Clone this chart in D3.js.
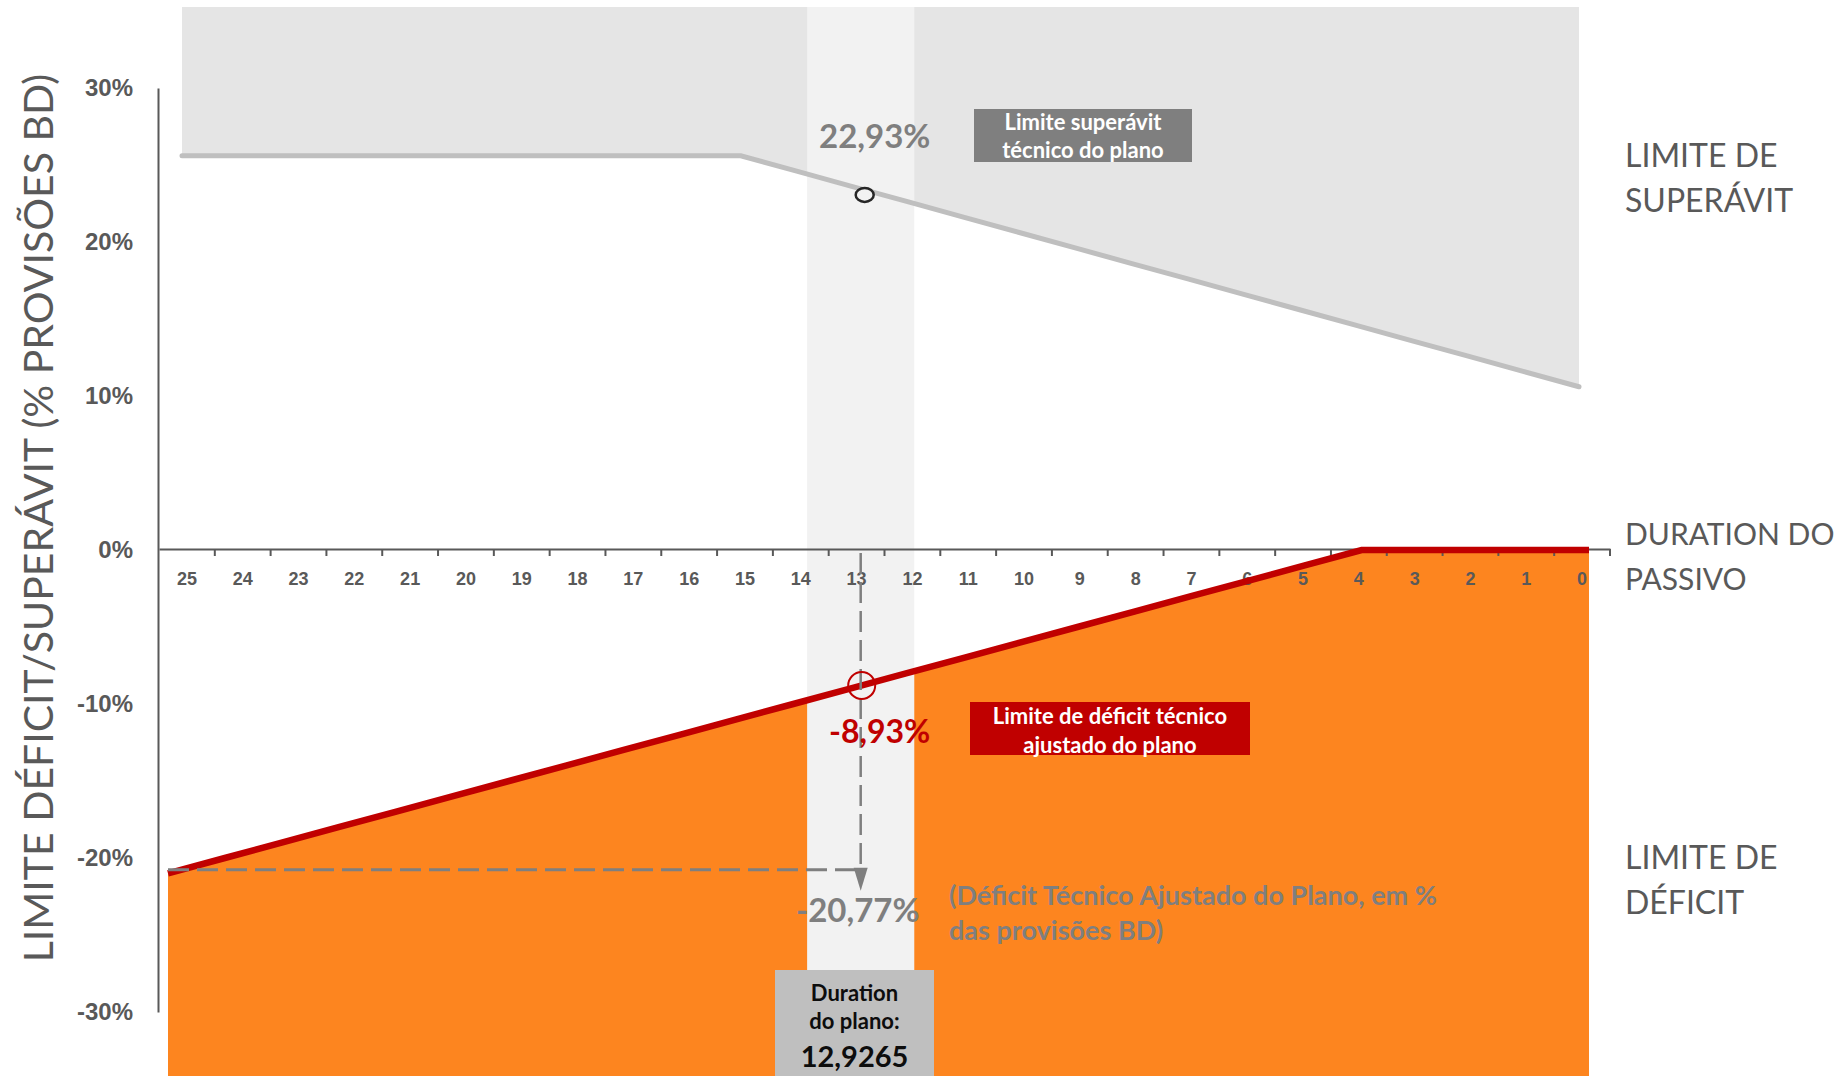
<!DOCTYPE html>
<html>
<head>
<meta charset="utf-8">
<script src="https://cdn.jsdelivr.net/npm/d3@7"></script>
<style>
  html, body { margin: 0; padding: 0; background: #fff; }
  svg { display: block; font-family: Lato, "Open Sans", sans-serif; }
</style>
</head>
<body>
<svg id="chart" width="1845" height="1076"></svg>
<script>
// duration do passivo (eixo X, decrescente)
var durations = [25, 24, 23, 22, 21, 20, 19, 18, 17, 16, 15, 14, 13, 12, 11, 10, 9, 8, 7, 6, 5, 4, 3, 2, 1, 0];
// limite de superavit (% provisoes BD)
var surplusLimit = [25.6, 25.6, 25.6, 25.6, 25.6, 25.6, 25.6, 25.6, 25.6, 25.6, 25.6,
  24.6, 23.6, 22.6, 21.6, 20.6, 19.6, 18.6, 17.6, 16.6, 15.6, 14.6, 13.6, 12.6, 11.6, 10.6];
// limite de deficit (% provisoes BD)
var deficitLimit = [-21, -20, -19, -18, -17, -16, -15, -14, -13, -12, -11,
  -10, -9, -8, -7, -6, -5, -4, -3, -2, -1, 0, 0, 0, 0, 0];
var yTicks = [-30, -20, -10, 0, 10, 20, 30];

var durationPlano = 12.9265;
var surplusAtDuration = 22.93;
var deficitAtDuration = -8.93;
var deficitAdjusted = -20.77;

var W = 1845, H = 1076;
var TOP = 7;
var GRAY_TXT = '#595959', GRAY_MID = '#7f7f7f', RED = '#c00000', ORANGE = '#fd851f';

var ptBR = d3.formatLocale({ decimal: ',', thousands: '.', grouping: [3], currency: ['R$', ''], minus: '-' });
var pct2 = function (v) { return ptBR.format('.2f')(v) + '%'; };

var svg = d3.select('#chart');

var xBand = d3.scaleBand().domain(durations.map(String)).range([159, 1610]).padding(0);
var half = xBand.bandwidth() / 2;
var xDur = d3.scaleLinear().domain([25, 0]).range([xBand('25') + half, xBand('0') + half]);
// the two shaded shapes sit a little off the category grid in the original
var xSup = d3.scaleLinear().domain([25, 0]).range([182, 1579]);
var xDef = d3.scaleLinear().domain([25, 0]).range([168, 1589]);
var y = d3.scaleLinear().domain([-30, 30]).range([1012, 88]);

var supData = durations.map(function (d, i) { return { d: d, v: surplusLimit[i] }; });
var defData = durations.map(function (d, i) { return { d: d, v: deficitLimit[i] }; });

// areas
svg.append('path').datum(supData)
  .attr('fill', '#e5e5e5')
  .attr('d', d3.area().x(function (p) { return xSup(p.d); }).y0(TOP).y1(function (p) { return y(p.v); }));

svg.append('path').datum(defData)
  .attr('fill', ORANGE)
  .attr('d', d3.area().x(function (p) { return xDef(p.d); }).y0(H).y1(function (p) { return y(p.v); }));

// faixa da duration do plano
var bx0 = xDur(durationPlano + 0.96), bx1 = xDur(durationPlano - 0.96);
svg.append('rect')
  .attr('x', bx0).attr('y', TOP).attr('width', bx1 - bx0).attr('height', H - TOP)
  .attr('fill', '#f2f2f2');

// axes
var gx = svg.append('g').attr('transform', 'translate(0,' + (y(0) - 1) + ')')
  .call(d3.axisBottom(xBand).tickSize(0).tickSizeOuter(0).tickPadding(23));
gx.select('.domain').attr('stroke', GRAY_TXT).attr('stroke-width', 2);
gx.selectAll('text').attr('fill', GRAY_TXT).style('font-size', '18px').style('font-weight', 700);
gx.selectAll('line.sep').data(durations).enter().append('line')
  .attr('class', 'sep')
  .attr('x1', function (d) { return xBand(String(d)) + xBand.bandwidth(); })
  .attr('x2', function (d) { return xBand(String(d)) + xBand.bandwidth(); })
  .attr('y1', 0).attr('y2', 7)
  .attr('stroke', GRAY_TXT).attr('stroke-width', 2);

var gy = svg.append('g').attr('transform', 'translate(158,0)')
  .call(d3.axisLeft(y).tickValues(yTicks).tickSize(0).tickSizeOuter(0).tickPadding(25)
    .tickFormat(function (d) { return d + '%'; }));
gy.select('.domain').attr('stroke', GRAY_TXT).attr('stroke-width', 2);
gy.selectAll('text').attr('fill', GRAY_TXT).style('font-size', '24px').style('font-weight', 700);

// lines
svg.append('path').datum(supData)
  .attr('fill', 'none').attr('stroke', '#bfbfbf').attr('stroke-width', 5).attr('stroke-linecap', 'round')
  .attr('d', d3.line().x(function (p) { return xSup(p.d); }).y(function (p) { return y(p.v); }));

svg.append('path').datum(defData)
  .attr('fill', 'none').attr('stroke', RED).attr('stroke-width', 6.5)
  .attr('d', d3.line().x(function (p) { return xDef(p.d); }).y(function (p) { return y(p.v); }));

// guias tracejadas
var mx = xDur(durationPlano);
var yAdj = y(deficitAdjusted);
svg.append('line')
  .attr('x1', xDef(25)).attr('x2', mx).attr('y1', yAdj).attr('y2', yAdj)
  .attr('stroke', GRAY_MID).attr('stroke-width', 3).attr('stroke-dasharray', '21,8');
svg.append('line')
  .attr('x1', mx).attr('x2', mx).attr('y1', y(0) + 3).attr('y2', yAdj)
  .attr('stroke', GRAY_MID).attr('stroke-width', 2.5).attr('stroke-dasharray', '21,8');
svg.append('path')
  .attr('d', 'M' + (mx - 7) + ',' + (yAdj - 2) + 'L' + (mx + 7) + ',' + (yAdj - 2) + 'L' + mx + ',' + (yAdj + 21) + 'Z')
  .attr('fill', GRAY_MID);

// marcadores
svg.append('ellipse')
  .attr('cx', mx + 4).attr('cy', y(surplusAtDuration) - 2).attr('rx', 9).attr('ry', 7)
  .attr('fill', '#f2f2f2').attr('stroke', '#262626').attr('stroke-width', 2.5);
svg.append('circle')
  .attr('cx', mx + 1).attr('cy', y(deficitAtDuration) - 2).attr('r', 13.5)
  .attr('fill', 'none').attr('stroke', RED).attr('stroke-width', 2);

// valores
svg.append('text').attr('x', mx + 14).attr('y', y(surplusAtDuration) - 49)
  .attr('text-anchor', 'middle').attr('fill', GRAY_MID)
  .style('font-size', '33px').style('font-weight', 700).text(pct2(surplusAtDuration));
svg.append('text').attr('x', mx + 19).attr('y', y(deficitAtDuration) + 55)
  .attr('text-anchor', 'middle').attr('fill', RED)
  .style('font-size', '32px').style('font-weight', 700).text(pct2(deficitAtDuration));
svg.append('text').attr('x', mx - 3).attr('y', yAdj + 52)
  .attr('text-anchor', 'middle').attr('fill', GRAY_MID)
  .style('font-size', '33px').style('font-weight', 700).text(pct2(deficitAdjusted));

// caixas de legenda
function labelBox(x, yTop, w, h, fill, color, lines, size, lineGap, firstBase) {
  svg.append('rect').attr('x', x).attr('y', yTop).attr('width', w).attr('height', h).attr('fill', fill);
  var t = svg.append('text').attr('text-anchor', 'middle').attr('fill', color)
    .style('font-size', size + 'px').style('font-weight', 700);
  lines.forEach(function (s, i) {
    t.append('tspan').attr('x', x + w / 2).attr('y', yTop + firstBase + i * lineGap).text(s);
  });
}
labelBox(974, 109, 218, 53, GRAY_MID, '#fff', ['Limite superávit', 'técnico do plano'], 22, 28, 21);
labelBox(970, 702, 280, 53, RED, '#fff', ['Limite de déficit técnico', 'ajustado do plano'], 22, 29, 22);
labelBox(775, 970, 159, 106, '#bfbfbf', '#0d0d0d', ['Duration', 'do plano:'], 22, 28, 31);
svg.append('text').attr('x', 775 + 159 / 2).attr('y', 1067).attr('text-anchor', 'middle')
  .attr('fill', '#0d0d0d').style('font-size', '29px').style('font-weight', 700)
  .text(ptBR.format('.4f')(durationPlano));

// nota
var note = svg.append('text').attr('fill', GRAY_MID).style('font-size', '27px').style('font-weight', 700);
note.append('tspan').attr('x', 949).attr('y', 905).text('(Déficit Técnico Ajustado do Plano, em %');
note.append('tspan').attr('x', 949).attr('y', 940).text('das provisões BD)');

// titulos
svg.append('text')
  .attr('transform', 'translate(53,518) rotate(-90)')
  .attr('text-anchor', 'middle').attr('fill', GRAY_TXT)
  .style('font-size', '41px').text('LIMITE DÉFICIT/SUPERÁVIT (% PROVISÕES BD)');

function sideLabel(lines, base, size) {
  var t = svg.append('text').attr('fill', GRAY_TXT).style('font-size', size + 'px');
  lines.forEach(function (s, i) {
    t.append('tspan').attr('x', 1625).attr('y', base + i * 45).text(s);
  });
}
sideLabel(['LIMITE DE', 'SUPERÁVIT'], 167, 32);
sideLabel(['DURATION DO', 'PASSIVO'], 545, 30);
sideLabel(['LIMITE DE', 'DÉFICIT'], 869, 32);
</script>
</body>
</html>
